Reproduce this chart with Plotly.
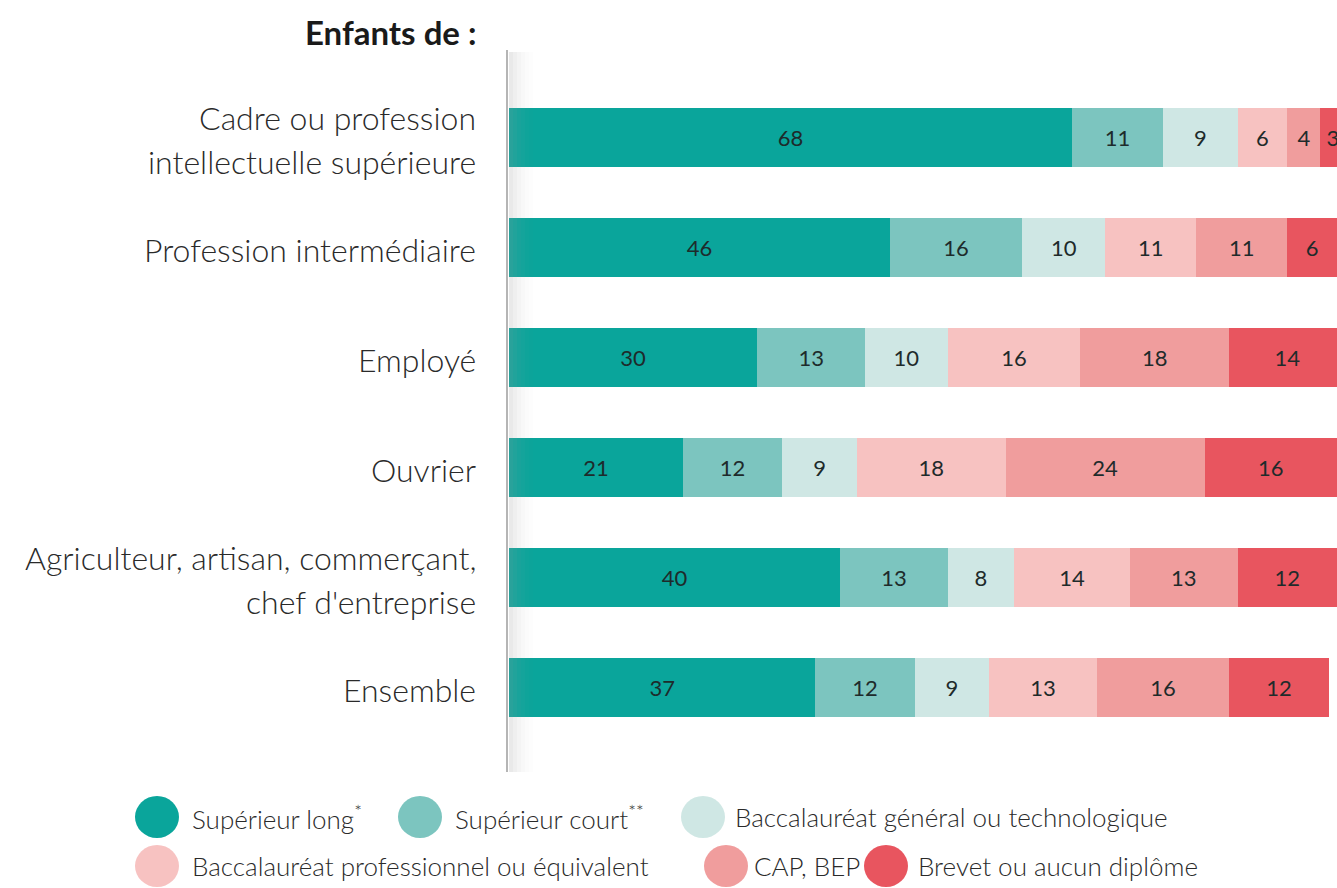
import plotly.graph_objects as go

# ---- data ----
categories = [
    "Cadre ou profession\nintellectuelle supérieure",
    "Profession intermédiaire",
    "Employé",
    "Ouvrier",
    "Agriculteur, artisan, commerçant,\nchef d'entreprise",
    "Ensemble",
]
series_names = [
    "Supérieur long*",
    "Supérieur court**",
    "Baccalauréat général ou technologique",
    "Baccalauréat professionnel ou équivalent",
    "CAP, BEP",
    "Brevet ou aucun diplôme",
]
sup_long = [68, 46, 30, 21, 40, 37]
sup_court = [11, 16, 13, 12, 13, 12]
bac_gen = [9, 10, 10, 9, 8, 9]
bac_pro = [6, 11, 16, 18, 14, 13]
cap_bep = [4, 11, 18, 24, 13, 16]
brevet = [3, 6, 14, 16, 12, 12]
series_values = [sup_long, sup_court, bac_gen, bac_pro, cap_bep, brevet]
colors = ["#0aa59b", "#7cc5bf", "#cfe7e4", "#f7c2c1", "#f09d9d", "#e8555f"]

W, H = 1337, 888
ML, MR, MT, MB = 509, 0, 82, 145
PW, PH = W - ML - MR, H - MT - MB
FONT = "Lato"

def px(x):
    return (x - ML) / PW

def py(y):
    return (H - MB - y) / PH

fig = go.Figure()
for name, vals, col in zip(series_names, series_values, colors):
    fig.add_trace(go.Bar(
        y=list(range(len(categories))), x=vals, orientation="h", name=name,
        marker=dict(color=col, line=dict(width=0)),
        text=[str(v) for v in vals], textposition="inside",
        insidetextanchor="middle", constraintext="none",
        textfont=dict(family=FONT, size=22, color="#1e2b2b"),
        width=0.535, showlegend=False, hoverinfo="x+name",
    ))

annotations = []
# category labels
for i, cat in enumerate(categories):
    lines = cat.split("\n")
    n = len(lines)
    for j, line in enumerate(lines):
        off = (j - (n - 1) / 2) * 44
        annotations.append(dict(
            x=px(478), xref="paper", y=i, yref="y", text=line, showarrow=False,
            xanchor="right", yanchor="middle", yshift=-off - 2,
            font=dict(family=FONT, size=32, color="#2a2a2a", weight=300),
        ))
# title
annotations.append(dict(
    x=px(479), xref="paper", y=py(32), yref="paper", text="<b>Enfants de :</b>",
    showarrow=False, xanchor="right", yanchor="middle",
    font=dict(family=FONT, size=33, color="#1a1a1a"),
))

shapes = []
# legend (circles + labels)
legend_pos = [(157, 817, 190), (420, 817, 453), (703, 817, 733),
              (157, 866, 190), (726, 866, 752), (886, 866, 916)]
for (cx, cy, tx), name, col in zip(legend_pos, series_names, colors):
    rx, ry = 22, 21
    shapes.append(dict(type="circle", xref="paper", yref="paper",
                       x0=px(cx - rx), x1=px(cx + rx), y0=py(cy + ry), y1=py(cy - ry),
                       fillcolor=col, line=dict(width=0)))
    label = name.replace("**", "<sup>**</sup>") if name.endswith("**") else name.replace("*", "<sup>*</sup>")
    annotations.append(dict(
        x=px(tx), xref="paper", y=py(cy), yref="paper", text=label,
        showarrow=False, xanchor="left", yanchor="middle",
        font=dict(family=FONT, size=26, color="#2a2a2a", weight=300),
    ))

# axis line with soft shadow
for k, op in enumerate([0.22, 0.16, 0.11, 0.07, 0.04, 0.02]):
    shapes.append(dict(type="rect", xref="paper", yref="paper", layer="above",
                       x0=px(509 + k * 4), x1=px(509 + (k + 1) * 4),
                       y0=py(772), y1=py(52), fillcolor="#9a9a9a", opacity=op,
                       line=dict(width=0)))
shapes.append(dict(type="line", xref="paper", yref="paper", layer="above",
                   x0=px(507), x1=px(507), y0=py(772), y1=py(50),
                   line=dict(color="#b5b5b5", width=2)))

fig.update_layout(
    barmode="stack", width=W, height=H,
    margin=dict(l=ML, r=MR, t=MT, b=MB),
    paper_bgcolor="white", plot_bgcolor="white",
    xaxis=dict(range=[0, 100], visible=False, fixedrange=True),
    yaxis=dict(range=[len(categories) - 0.5, -0.5], visible=False, fixedrange=True),
    annotations=annotations, shapes=shapes,
    uniformtext=dict(mode=False),
)
fig.write_html("out.html", config={"displayModeBar": False},
               post_script="document.body.style.margin='0';document.body.style.overflow='hidden';")
